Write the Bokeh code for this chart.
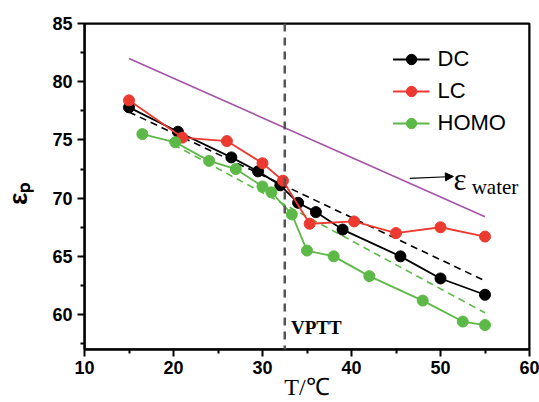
from bokeh.plotting import figure
from bokeh.models import Range1d, Span, Label, Arrow, NormalHead, FixedTicker
from bokeh.embed import file_html
from bokeh.resources import INLINE

# ---- data ----
T_DC = [15, 20.5, 26.5, 29.5, 32, 34, 36, 39, 45.5, 50, 55]
EPS_DC = [77.8, 75.7, 73.5, 72.3, 71.1, 69.6, 68.8, 67.3, 65.0, 63.1, 61.7]

T_LC = [15, 21, 26, 30, 32.3, 35.3, 40.3, 45, 50, 55]
EPS_LC = [78.4, 75.2, 74.9, 73.0, 71.5, 67.8, 68.0, 67.0, 67.5, 66.7]

T_HOMO = [16.5, 20.2, 24, 27, 30, 31, 33.3, 35, 38, 42, 48, 52.5, 55]
EPS_HOMO = [75.5, 74.8, 73.2, 72.5, 71.0, 70.5, 68.6, 65.5, 65.0, 63.3, 61.2, 59.4, 59.1]

FIT_DC_T = [15, 55]
FIT_DC = [77.4, 62.9]
FIT_HOMO_T = [20, 55]
FIT_HOMO = [74.6, 60.15]

WATER_T = [15, 55]
WATER = [82.0, 68.4]

VPTT = 32.5

X_RANGE = (10, 60)
Y_RANGE = (57, 85)
X_TICKS = [10, 20, 30, 40, 50, 60]
X_MINOR = [15, 25, 35, 45, 55]
Y_TICKS = [60, 65, 70, 75, 80, 85]
Y_MINOR = [57.5, 62.5, 67.5, 72.5, 77.5, 82.5]

BLACK = "#000000"
RED = "#ec3a31"
GREEN = "#5db947"
PURPLE = "#a652a8"

p = figure(width=539, height=402, output_backend="svg", toolbar_location=None,
           x_range=Range1d(*X_RANGE), y_range=Range1d(*Y_RANGE),
           min_border_left=83, min_border_right=10, min_border_top=23, min_border_bottom=52)
p.xgrid.visible = False
p.ygrid.visible = False
p.outline_line_color = "black"
p.outline_line_width = 2
p.background_fill_color = "white"
p.border_fill_color = "white"

p.xaxis[0].ticker = FixedTicker(ticks=X_TICKS, minor_ticks=X_MINOR)
p.yaxis[0].ticker = FixedTicker(ticks=Y_TICKS, minor_ticks=Y_MINOR)

for ax in (p.xaxis[0], p.yaxis[0]):
    ax.axis_line_width = 2
    ax.axis_line_color = "black"
    ax.major_tick_line_width = 2
    ax.minor_tick_line_width = 2
    ax.major_tick_line_color = "black"
    ax.minor_tick_line_color = "black"
    ax.major_tick_out = 7
    ax.major_tick_in = 0
    ax.minor_tick_out = 4
    ax.minor_tick_in = 0
    ax.major_label_text_font = "Liberation Sans"
    ax.major_label_text_font_style = "bold"
    ax.major_label_text_font_size = "18px"
    ax.major_label_text_color = "black"

p.xaxis.major_label_standoff = 4
p.yaxis.major_label_standoff = 5

# axis titles
p.xaxis.axis_label = "T/\u2103"
p.xaxis.axis_label_text_font = "Liberation Serif"
p.xaxis.axis_label_text_font_style = "normal"
p.xaxis.axis_label_text_font_size = "24px"
p.xaxis.axis_label_text_color = "black"
p.xaxis.axis_label_standoff = -3

p.yaxis.axis_label = "\u03b5\u209a\u00a0\u00a0"
p.yaxis.axis_label_text_font = "Liberation Sans"
p.yaxis.axis_label_text_font_style = "bold"
p.yaxis.axis_label_text_font_size = "26px"
p.yaxis.axis_label_text_color = "black"
p.yaxis.axis_label_standoff = 16

# frame box edges
for loc, dim in [(X_RANGE[0], "height"), (X_RANGE[1], "height"),
                 (Y_RANGE[0], "width"), (Y_RANGE[1], "width")]:
    p.add_layout(Span(location=loc, dimension=dim, line_color=BLACK, line_width=2))

# VPTT line
p.add_layout(Span(location=VPTT, dimension="height", line_color="#555555",
                  line_width=2.5, line_dash="8 6"))

# water line
p.line(WATER_T, WATER, line_color=PURPLE, line_width=1.6)

# fit lines
p.line(FIT_DC_T, FIT_DC, line_color=BLACK, line_width=1.6, line_dash="7 5")
p.line(FIT_HOMO_T, FIT_HOMO, line_color=GREEN, line_width=1.6, line_dash="7 5")

# series
for t, e, c, lab in [(T_DC, EPS_DC, BLACK, "DC"), (T_LC, EPS_LC, RED, "LC"),
                     (T_HOMO, EPS_HOMO, GREEN, "HOMO")]:
    p.line(t, e, line_color=c, line_width=1.8, legend_label=lab)
    p.scatter(t, e, size=11, fill_color=c, line_color=c, legend_label=lab)

leg = p.legend[0]
leg.location = "top_right"
leg.border_line_color = None
leg.background_fill_alpha = 0
leg.padding = 0
leg.margin = 23
leg.glyph_width = 37
leg.glyph_height = 26
leg.label_height = 26
leg.spacing = 6
leg.label_standoff = 8
leg.label_text_font = "Liberation Sans"
leg.label_text_font_size = "22px"
leg.label_text_color = "black"

# texts
p.add_layout(Label(x=33.2, y=58.0, text="VPTT", text_font="Liberation Serif",
                   text_font_style="bold", text_font_size="19px", text_color="black"))

p.add_layout(Arrow(end=NormalHead(size=8, fill_color="black", line_color="black"),
                   x_start=46.55, y_start=71.7, x_end=51.45, y_end=71.86,
                   line_color="black", line_width=1.2))
p.add_layout(Label(x=51.45, y=71.62, text="\u03b5", text_font="Liberation Serif",
                   text_font_size="31px", text_color="black", text_baseline="alphabetic"))
p.add_layout(Label(x=53.5, y=70.93, text="water", text_font="Liberation Serif",
                   text_font_size="21px", text_color="black", text_baseline="alphabetic"))

open("out.html", "w").write(file_html(p, INLINE))
